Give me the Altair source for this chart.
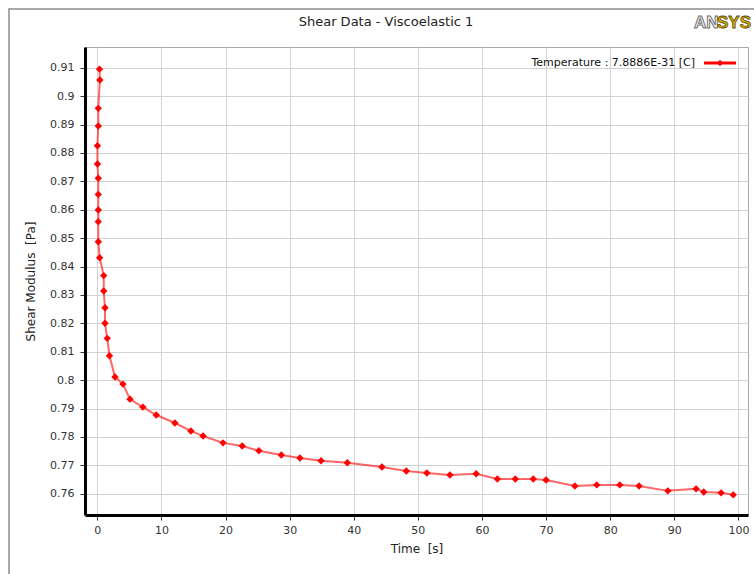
import altair as alt
import pandas as pd

# Data (time in s, shear modulus in Pa), in drawing order
time_s = [0.35, 0.40, 0.15, 0.15, 0.02, 0.02, 0.15, 0.15, 0.15, 0.15, 0.15, 0.37,
          1.0, 1.0, 1.2, 1.2, 1.55, 1.9, 2.76, 4.0, 5.1, 7.1, 9.2, 12.1, 14.6, 16.5,
          19.6, 22.6, 25.2, 28.7, 31.6, 34.9, 39.0, 44.4, 48.2, 51.4, 55.0, 59.1,
          62.4, 65.2, 68.0, 70.0, 74.5, 77.9, 81.5, 84.5, 89.0, 93.4, 94.6, 97.3, 99.2]
shear_modulus = [0.9095, 0.9057, 0.8957, 0.8895, 0.8825, 0.8761, 0.8711, 0.8654, 0.8599, 0.8558, 0.8487, 0.8431,
                 0.8368, 0.8314, 0.8255, 0.8200, 0.8147, 0.8086, 0.8011, 0.7986, 0.7933, 0.7905, 0.7877, 0.7849,
                 0.7821, 0.7803,
                 0.7779, 0.7768, 0.7751, 0.7736, 0.7726, 0.7716, 0.7709, 0.7694, 0.7680, 0.7673, 0.7666, 0.7670,
                 0.7652, 0.7652, 0.7652, 0.7648, 0.7627, 0.7631, 0.7631, 0.7627, 0.7610, 0.7617, 0.7606, 0.7603,
                 0.7596]

x_ticks = [0, 10, 20, 30, 40, 50, 60, 70, 80, 90, 100]
y_ticks = [0.76, 0.77, 0.78, 0.79, 0.80, 0.81, 0.82, 0.83, 0.84, 0.85, 0.86, 0.87, 0.88, 0.89, 0.90, 0.91]

title_text = ["Shear Data - Viscoelastic 1"]
legend_label = ["Temperature : 7.8886E-31 [C]"]

df = pd.DataFrame({"t": time_s, "G": shear_modulus, "idx": list(range(len(time_s)))})

FONT = "DejaVu Sans"
RED = "#ff0000"

x_enc = alt.X("t:Q",
              scale=alt.Scale(domain=[-1.92, 101.5], nice=False, zero=False),
              axis=alt.Axis(values=x_ticks, title="Time\u00a0 [s]", format="d",
                            labelPadding=4, titlePadding=8, labelOverlap=False))
y_enc = alt.Y("G:Q",
              scale=alt.Scale(domain=[0.7525, 0.9173], nice=False, zero=False),
              axis=alt.Axis(values=y_ticks, title="Shear Modulus\u00a0 [Pa]", format=".2~f",
                            labelPadding=6, titlePadding=12, labelOverlap=False))

base = alt.Chart(df).encode(x=x_enc, y=y_enc)

line = base.mark_line(color="#ff3333", strokeWidth=2, opacity=0.75).encode(order="idx:Q")
points = base.mark_point(shape="diamond", filled=True, size=55, color=RED, opacity=1)

one = pd.DataFrame({"label": legend_label, "title": title_text})

frame = alt.Chart(one).mark_rect(fillOpacity=0, stroke="#8c8c8c", strokeWidth=1.5).encode(
    x=alt.value(-76), x2=alt.value(700), y=alt.value(-38), y2=alt.value(560))

title = alt.Chart(one).mark_text(font=FONT, fontSize=13, color="#222", align="center",
                                 baseline="middle").encode(
    x=alt.value(301), y=alt.value(-25), text="title:N")

leg_text = alt.Chart(one).mark_text(font=FONT, fontSize=11, color="#111", align="right",
                                    baseline="middle").encode(
    x=alt.value(610), y=alt.value(16), text="label:N")
leg_line = alt.Chart(one).mark_rule(color=RED, strokeWidth=3).encode(
    x=alt.value(619), x2=alt.value(651), y=alt.value(16))
leg_pt = alt.Chart(one).mark_point(shape="diamond", filled=True, size=40, color=RED, opacity=1).encode(
    x=alt.value(635), y=alt.value(16))

LOGO_FONT = "Liberation Sans"
logo_an = alt.Chart(pd.DataFrame({"s": ["AN"]})).mark_text(
    font=LOGO_FONT, fontSize=17, fontWeight="bold", fill="white", stroke="#6e6e6e", strokeWidth=1,
    align="left", baseline="alphabetic").encode(x=alt.value(609), y=alt.value(-19), text="s:N")
logo_sys = alt.Chart(pd.DataFrame({"s": ["SYS"]})).mark_text(
    font=LOGO_FONT, fontSize=17, fontWeight="bold", fill="#e3b000", stroke="#5a4a10", strokeWidth=0.8,
    align="left", baseline="alphabetic").encode(x=alt.value(632), y=alt.value(-19), text="s:N")

chart = alt.layer(frame, line, points, title, leg_text, leg_line, leg_pt, logo_an, logo_sys).properties(
    width=663, height=468,
    padding={"left": 85, "top": 47, "right": 6, "bottom": 59},
    autosize=alt.AutoSizeParams(type="none"),
    background="white",
).configure_view(
    stroke="#a8a8a8", strokeWidth=1
).configure_axis(
    gridColor="#d2d2d2", gridWidth=1,
    domainColor="black", domainWidth=3,
    tickColor="#333", tickSize=5, tickWidth=1,
    labelFont=FONT, labelFontSize=11, labelColor="#333",
    titleFont=FONT, titleFontSize=12, titleFontWeight="normal", titleColor="#222",
)

chart.save("out.html", embed_options={"renderer": "svg", "actions": False})
